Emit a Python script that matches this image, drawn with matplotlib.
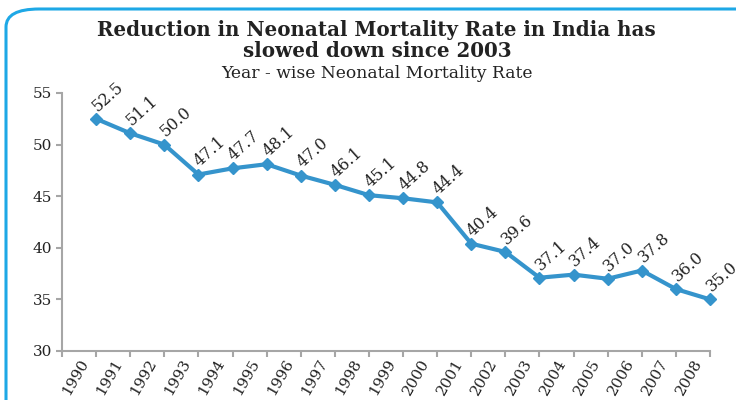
import matplotlib
matplotlib.use("Agg")
import matplotlib.pyplot as plt
from matplotlib.patches import FancyBboxPatch

years = [str(y) for y in range(1990, 2009)]
nmr = [52.5, 51.1, 50.0, 47.1, 47.7, 48.1, 47.0, 46.1, 45.1, 44.8,
       44.4, 40.4, 39.6, 37.1, 37.4, 37.0, 37.8, 36.0, 35.0]

LINE = "#3594cc"
AXIS = "#a6a6a6"
SERIF = ["DejaVu Serif"]

fig = plt.figure(figsize=(7.36, 4.0), dpi=100)

# rounded frame, cut off at right and bottom like the source
frame = FancyBboxPatch((6 / 736, -0.2), 1.2, 1 - 9 / 400 + 0.2,
                       boxstyle="round,pad=0,rounding_size=0.045",
                       transform=fig.transFigure, fill=False,
                       edgecolor="#1ea8e6", linewidth=2.2, clip_on=False)
fig.patches.append(frame)

fig.text(0.512, 1 - 30 / 400, "Reduction in Neonatal Mortality Rate in India has",
         ha="center", va="center", fontsize=14.3, fontweight="bold", family=SERIF, color="#222222")
fig.text(0.512, 1 - 51 / 400, "slowed down since 2003",
         ha="center", va="center", fontsize=14.3, fontweight="bold", family=SERIF, color="#222222")
fig.text(0.512, 1 - 73 / 400, "Year - wise Neonatal Mortality Rate",
         ha="center", va="center", fontsize=12.3, family=SERIF, color="#222222")

ax = fig.add_axes([62 / 736, 1 - 351 / 400, (710 - 62) / 736, (351 - 93) / 400])
xs = list(range(1, len(nmr) + 1))
ax.plot(xs, nmr, color=LINE, linewidth=3, marker="D", markersize=6.5,
        markerfacecolor=LINE, markeredgecolor=LINE, clip_on=False, zorder=3)

for x, v in zip(xs, nmr):
    ax.annotate(f"{v:.1f}", (x, v), xytext=(3, 3), textcoords="offset points",
                rotation=42, rotation_mode="anchor", ha="left", va="bottom",
                fontsize=11.5, family=SERIF, color="#222222", annotation_clip=False)

ax.set_xlim(0, len(nmr))
ax.set_ylim(30, 55)
ax.set_yticks([30, 35, 40, 45, 50, 55])
ax.set_xticks(range(0, len(nmr) + 1))
ax.set_xticklabels([])
ax.set_xticks([i + 0.5 for i in range(len(years))], minor=True)
ax.set_xticklabels(years, minor=True, rotation=60, ha="right",
                   rotation_mode="anchor", fontsize=11, family=SERIF, color="#222222")
ax.tick_params(axis="x", which="minor", length=0, pad=4)
ax.tick_params(axis="x", which="major", length=4, color=AXIS, width=1.5)
ax.tick_params(axis="y", length=4, color=AXIS, width=1.5, labelsize=11, pad=3)
for lab in ax.get_yticklabels():
    lab.set_family(SERIF)
    lab.set_color("#222222")

for s in ("top", "right"):
    ax.spines[s].set_visible(False)
for s in ("left", "bottom"):
    ax.spines[s].set_color(AXIS)
    ax.spines[s].set_linewidth(1.5)

fig.savefig("out.png", dpi=100)
